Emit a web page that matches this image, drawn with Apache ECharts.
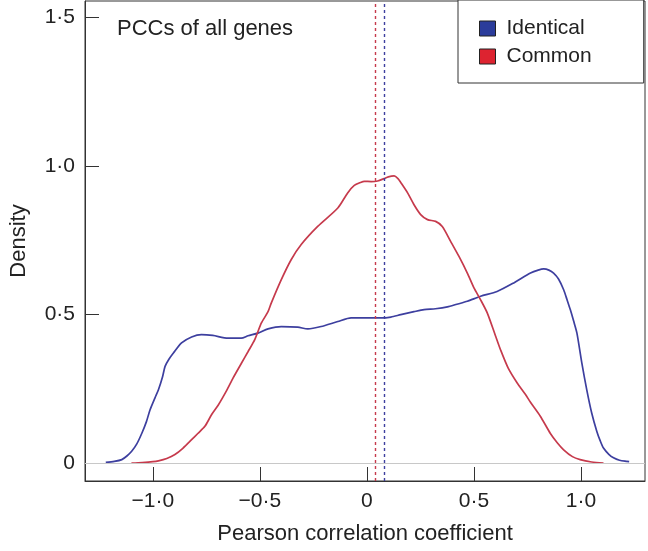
<!DOCTYPE html>
<html>
<head>
<meta charset="utf-8">
<script src="https://cdn.jsdelivr.net/npm/echarts@6/dist/echarts.min.js"></script>
<style>html,body{margin:0;padding:0;background:#fff}#c{width:648px;height:551px}</style>
</head>
<body>
<div id="c"></div>
<script>
var xTicks = [-1.0, -0.5, 0, 0.5, 1.0];
var xTickLabels = ['\u22121\u00b70', '\u22120\u00b75', '0', '0\u00b75', '1\u00b70'];
var yTicks = [0, 0.5, 1.0, 1.5];
var yTickLabels = ['0', '0\u00b75', '1\u00b70', '1\u00b75'];

var identicalX = [-1.22,-1.18,-1.145,-1.12,-1.099,-1.075,-1.052,-1.03,-1.013,-0.99,-0.974,-0.955,-0.943,-0.925,-0.904,-0.866,-0.819,-0.773,-0.72,-0.649,-0.587,-0.555,-0.509,-0.462,-0.40,-0.323,-0.276,-0.214,-0.136,-0.074,0.0,0.065,0.112,0.158,0.22,0.267,0.32,0.376,0.42,0.469,0.531,0.608,0.686,0.764,0.80,0.826,0.85,0.872,0.895,0.919,0.935,0.95,0.965,0.981,1.004,1.027,1.05,1.074,1.09,1.105,1.13,1.152,1.18,1.214,1.225];
var identicalY = [0.003,0.006,0.012,0.025,0.04,0.065,0.10,0.14,0.18,0.22,0.247,0.29,0.326,0.35,0.371,0.405,0.425,0.433,0.43,0.421,0.421,0.429,0.438,0.452,0.46,0.458,0.452,0.46,0.477,0.489,0.489,0.489,0.492,0.50,0.51,0.517,0.52,0.526,0.535,0.545,0.562,0.578,0.607,0.64,0.65,0.654,0.65,0.64,0.62,0.584,0.55,0.517,0.48,0.438,0.337,0.247,0.169,0.107,0.075,0.051,0.03,0.018,0.01,0.006,0.005];

var commonX = [-1.10,-1.05,-1.0,-0.974,-0.935,-0.897,-0.86,-0.819,-0.79,-0.757,-0.726,-0.695,-0.655,-0.625,-0.585,-0.555,-0.524,-0.493,-0.462,-0.447,-0.40,-0.354,-0.307,-0.23,-0.136,-0.09,-0.059,-0.03,-0.012,0.02,0.05,0.08,0.10,0.127,0.145,0.158,0.19,0.22,0.251,0.283,0.321,0.352,0.391,0.43,0.469,0.50,0.531,0.562,0.60,0.624,0.66,0.702,0.74,0.764,0.81,0.857,0.89,0.919,0.96,0.996,1.05,1.105];
var commonY = [0.0,0.002,0.005,0.008,0.016,0.029,0.05,0.079,0.10,0.124,0.163,0.195,0.245,0.287,0.338,0.376,0.416,0.472,0.51,0.539,0.618,0.685,0.736,0.797,0.859,0.91,0.935,0.945,0.949,0.948,0.950,0.958,0.964,0.967,0.958,0.945,0.91,0.87,0.837,0.82,0.814,0.797,0.747,0.696,0.64,0.59,0.55,0.506,0.43,0.382,0.32,0.27,0.232,0.205,0.158,0.10,0.068,0.045,0.022,0.012,0.004,0.0];

var meanCommon = 0.04;
var meanIdentical = 0.083;

function pairs(xs, ys){ return xs.map(function(x,i){ return [x, ys[i]]; }); }

var chart = echarts.init(document.getElementById('c'), null, {renderer:'canvas'});
var FONT = 'Liberation Sans, Arial, Helvetica, sans-serif';
chart.setOption({
  animation: false,
  backgroundColor: '#fff',
  grid: { left: 83, right: 3, top: 1, bottom: 70, show: true, borderColor: '#333', borderWidth: 1, containLabel: false },
  xAxis: {
    type: 'value', min: -1.317, max: 1.299,
    name: 'Pearson correlation coefficient', nameLocation: 'middle', nameGap: 42,
    nameTextStyle: { fontFamily: FONT, fontSize: 22, color: '#222' },
    axisLine: { onZero: false, lineStyle: { color: '#333', width: 1 } },
    axisTick: { inside: true, length: 14, lineStyle: { color: '#333' }, customValues: xTicks },
    axisLabel: { margin: 10, fontFamily: FONT, fontSize: 21, color: '#222', customValues: xTicks,
      formatter: function(v){ var i = xTicks.findIndex(function(t){return Math.abs(t-v)<1e-9;}); return i>=0 ? xTickLabels[i] : ''; } },
    splitLine: { show: false }
  },
  yAxis: {
    type: 'value', min: -0.06, max: 1.556,
    name: 'Density', nameLocation: 'middle', nameGap: 55,
    nameTextStyle: { fontFamily: FONT, fontSize: 22, color: '#222' },
    axisLine: { show: true, onZero: false, lineStyle: { color: '#333', width: 1 } },
    axisTick: { show: true, inside: true, length: 14, lineStyle: { color: '#333' }, customValues: yTicks },
    axisLabel: { margin: 10, fontFamily: FONT, fontSize: 21, color: '#222', customValues: yTicks,
      formatter: function(v){ var i = yTicks.findIndex(function(t){return Math.abs(t-v)<1e-9;}); return i>=0 ? yTickLabels[i] : ''; } },
    splitLine: { show: false }
  },
  legend: {
    orient: 'vertical', left: 458, top: 0,
    padding: [18, 52, 16, 21], itemGap: 7, itemWidth: 16, itemHeight: 15,
    borderColor: '#333', borderWidth: 1, backgroundColor: '#fff',
    textStyle: { fontFamily: FONT, fontSize: 21, color: '#222', padding: [0,0,0,6], lineHeight: 21 },
    data: [
      { name: 'Identical', icon: 'rect', itemStyle: { color: '#2b3c9b', borderColor: '#222', borderWidth: 1 } },
      { name: 'Common', icon: 'rect', itemStyle: { color: '#dd2330', borderColor: '#222', borderWidth: 1 } }
    ]
  },
  graphic: [
    { type: 'text', left: 117, top: 18, style: { text: 'PCCs of all genes', font: '22px ' + FONT, fill: '#222' } }
  ],
  series: [
    { type: 'line', name: 'zero', data: [], z: 1, silent: true,
      markLine: { silent: true, symbol: ['none','none'], label: { show: false },
        lineStyle: { color: '#c8c8c8', type: 'solid', width: 1 }, data: [{ yAxis: 0 }] } },
    { type: 'line', name: 'Identical', data: pairs(identicalX, identicalY), showSymbol: false, symbol: 'none',
      smooth: 0.25, lineStyle: { color: '#3d3f9f', width: 1.7 }, itemStyle: { color: '#2b3c9b' }, z: 3 },
    { type: 'line', name: 'Common', data: pairs(commonX, commonY), showSymbol: false, symbol: 'none',
      smooth: 0.25, lineStyle: { color: '#c63a4c', width: 1.7 }, itemStyle: { color: '#dd2330' }, z: 3 },
    { type: 'line', name: 'means', data: [], z: 2, silent: true,
      markLine: { silent: true, symbol: ['none','none'], label: { show: false }, data: [
        { xAxis: meanCommon, lineStyle: { color: '#c63a4c', type: [3,3], width: 1.4 } },
        { xAxis: meanIdentical, lineStyle: { color: '#3d3f9f', type: [3,3], width: 1.4 } }
      ] } }
  ]
});
</script>
</body>
</html>
